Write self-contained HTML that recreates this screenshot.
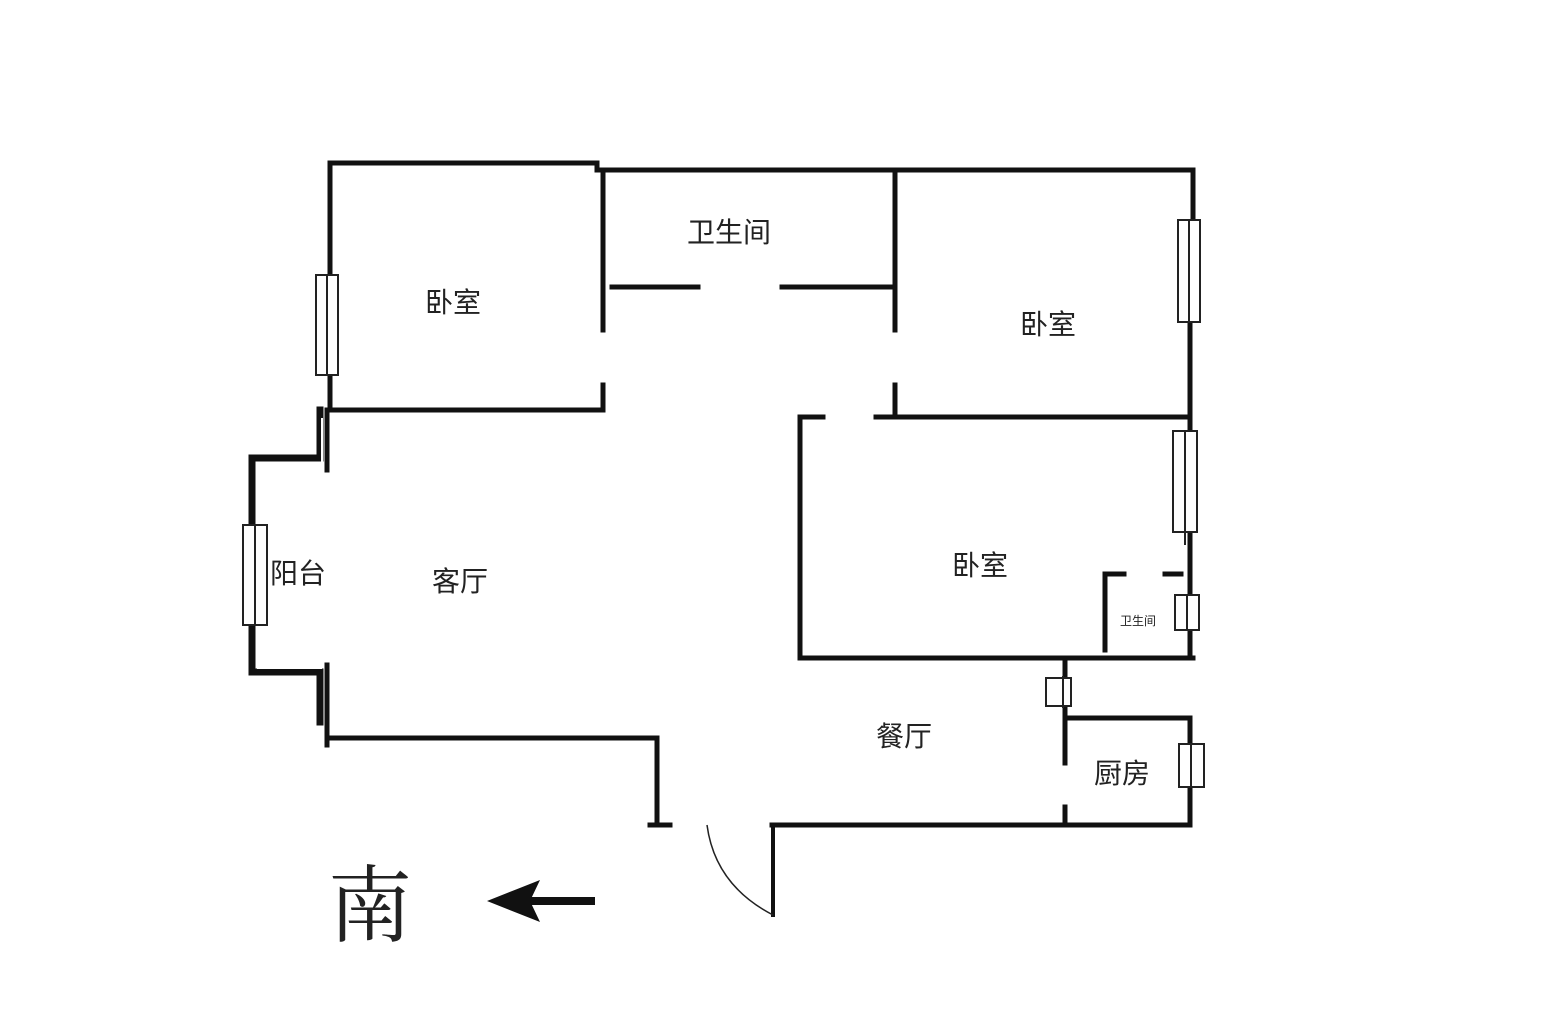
<!DOCTYPE html>
<html><head><meta charset="utf-8"><style>
html,body{margin:0;padding:0;background:#fff;}
svg{display:block;}
text{font-family:"Liberation Sans","Noto Sans CJK SC",sans-serif;fill:#222;}
</style></head><body>
<svg width="1559" height="1019" viewBox="0 0 1559 1019" xmlns="http://www.w3.org/2000/svg">
<g stroke="#111" stroke-width="5" fill="none" stroke-linecap="square">
<!-- top -->
<path d="M330,163 H597 V170 H1193 V220"/>
<path d="M330,163 V275 M330,375 V410 H603 V385 M603,170 V330"/>
<!-- bathroom -->
<path d="M612,287 H698 M782,287 H891"/>
<path d="M895,170 V330 M895,385 V415"/>
<!-- bedroom2 bottom -->
<path d="M876,417 H1185 M800,417 H823 M800,417 V658 H1193"/>
<!-- right wall -->
<path d="M1190,322 V430 M1190,532 V595 M1190,630 V658"/>
<!-- small bath -->
<path d="M1105,575 V650 M1105,574 H1124 M1165,574 H1181"/>
<!-- kitchen -->
<path d="M1065,658 V678 M1065,706 V763 M1065,807 V825"/>
<path d="M1065,718 H1190 V745 M1190,787 V825"/>
<!-- bottom -->
<path d="M772,825 H1190 M650,825 H670 M657,825 V738 H330"/>
<path d="M773,825 V915" stroke-width="4"/>
<!-- balcony -->
<path d="M327,410 V470 M327,665 V745"/>
<path d="M320,410 V458 H252 V525 M252,625 V672 H320 V722" stroke-width="7"/>
</g>
<path d="M322,418 V463 H258 V520 M258,630 V668 H322" stroke="#fff" stroke-width="2" fill="none"/>
<!-- door arc -->
<path d="M707,825 Q715,885 773,915" stroke="#222" stroke-width="1.5" fill="none"/>
<!-- windows -->
<g stroke="#222" stroke-width="2" fill="#fff">
<rect x="316" y="275" width="22" height="100"/><line x1="327" y1="275" x2="327" y2="375"/>
<rect x="243" y="525" width="24" height="100"/><line x1="255" y1="525" x2="255" y2="625"/>
<rect x="1178" y="220" width="22" height="102"/><line x1="1189" y1="220" x2="1189" y2="322"/>
<rect x="1173" y="431" width="24" height="101"/><line x1="1185" y1="431" x2="1185" y2="545"/>
<rect x="1175" y="595" width="24" height="35"/><line x1="1187" y1="595" x2="1187" y2="630"/>
<rect x="1046" y="678" width="25" height="28"/><line x1="1063" y1="676" x2="1063" y2="708"/>
<rect x="1179" y="744" width="25" height="43"/><line x1="1191" y1="744" x2="1191" y2="787"/>
</g>
<!-- labels -->
<g font-size="28">
<text x="425" y="312">卧室</text>
<text x="687" y="242">卫生间</text>
<text x="1020" y="334">卧室</text>
<text x="952" y="575">卧室</text>
<text x="432" y="591">客厅</text>
<text x="270" y="583">阳台</text>
<text x="876" y="746">餐厅</text>
<text x="1094" y="783">厨房</text>
</g>
<text x="1120" y="625" font-size="12">卫生间</text>
<text x="328" y="935" font-size="84" style="font-family:'Liberation Serif','Noto Serif CJK SC',serif">南</text>
<line x1="530" y1="901" x2="595" y2="901" stroke="#111" stroke-width="8"/>
<polygon points="487,901 540,880 530,901 540,922" fill="#111"/>
</svg>
</body></html>
